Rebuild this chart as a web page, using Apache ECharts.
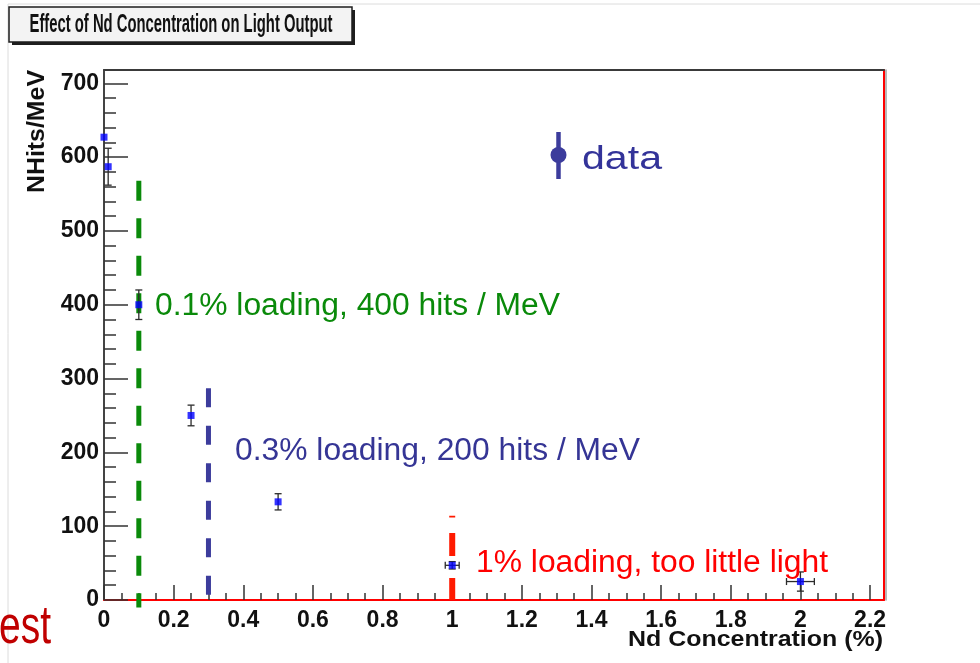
<!DOCTYPE html>
<html>
<head>
<meta charset="utf-8">
<title>Effect of Nd Concentration on Light Output</title>
<script src="https://cdn.jsdelivr.net/npm/echarts@6/dist/echarts.min.js"></script>
<style>
  html, body { margin: 0; padding: 0; background: #ffffff; }
  #chart { width: 980px; height: 663px; }
</style>
</head>
<body>
<div id="chart"></div>
<script>
// Measured light yield vs. Nd loading
const concentration      = [0, 0.012, 0.1, 0.25, 0.5, 1.0, 2.0];   // Nd concentration (%)
const nhitsPerMeV        = [627, 587, 400, 250, 133, 47, 25];     // NHits/MeV
const nhitsError         = [0, 25, 20, 14, 11, 5, 13];            // +/- NHits/MeV
const concentrationError = [0, 0, 0, 0, 0, 0.02, 0.04];           // +/- %

// Vertical guide lines for the loading options (drawn from start to end)
const guideX     = [0.1, 0.3, 1.0];
const guideStart = [568, 287, 0];
const guideEnd   = [-10, 5, 114];

// Axis tick labels
const xTickValues = [0, 0.2, 0.4, 0.6, 0.8, 1, 1.2, 1.4, 1.6, 1.8, 2, 2.2];
const yTickValues = [0, 100, 200, 300, 400, 500, 600, 700];

const X_MAX = 2.24;
const Y_MAX = 718;

const xMinorTicks = [];
for (let i = 0; i <= 44; i++) xMinorTicks.push(+(i * 0.05).toFixed(2));
const yMinorTicks = [];
for (let v = 0; v <= 700; v += 20) yMinorTicks.push(v);

const FONT = '"Liberation Sans", Arial, Helvetica, sans-serif';
const GREEN = '#0a8a0a', BLUE = '#353595', RED = '#ff0000';

// Text width fitting
const measureCtx = document.createElement('canvas').getContext('2d');
function fitScale(text, size, weight, target) {
  measureCtx.font = weight + ' ' + size + 'px ' + FONT;
  return target / measureCtx.measureText(text).width;
}
function textEl(text, x, y, size, weight, color, targetWidth, align, rotation) {
  return {
    type: 'text', x: x, y: y, rotation: rotation || 0,
    scaleX: targetWidth ? fitScale(text, size, weight, targetWidth) : 1,
    z: 20,
    style: {
      text: text, font: weight + ' ' + size + 'px ' + FONT, fill: color,
      align: align, verticalAlign: 'middle'
    }
  };
}

function renderErrorBars(params, api) {
  const x = api.value(0), y = api.value(1), ex = api.value(2), ey = api.value(3);
  const style = { stroke: '#2b2b2b', lineWidth: 1.3 };
  const cap = 3.5;
  const kids = [];
  if (ey > 0) {
    const t = api.coord([x, y + ey]), b = api.coord([x, y - ey]);
    kids.push({ type: 'line', shape: { x1: t[0], y1: t[1], x2: b[0], y2: b[1] }, style: style });
    kids.push({ type: 'line', shape: { x1: t[0] - cap, y1: t[1], x2: t[0] + cap, y2: t[1] }, style: style });
    kids.push({ type: 'line', shape: { x1: b[0] - cap, y1: b[1], x2: b[0] + cap, y2: b[1] }, style: style });
  }
  if (ex > 0) {
    const l = api.coord([x - ex, y]), r = api.coord([x + ex, y]);
    kids.push({ type: 'line', shape: { x1: l[0], y1: l[1], x2: r[0], y2: r[1] }, style: style });
    kids.push({ type: 'line', shape: { x1: l[0], y1: l[1] - cap, x2: l[0], y2: l[1] + cap }, style: style });
    kids.push({ type: 'line', shape: { x1: r[0], y1: r[1] - cap, x2: r[0], y2: r[1] + cap }, style: style });
  }
  return { type: 'group', children: kids };
}

const guideColors = [GREEN, '#3c3c9c', '#ff1a00'];
const guideWidths = [5, 5, 6];
const guideDash   = [[20, 17.5], [19, 18.5], [22, 22, 23, 15.5]];

const guideSeries = guideX.map(function (gx, i) {
  return {
    type: 'line', name: 'guide' + i, silent: true, clip: false,
    symbol: 'none', z: 3,
    data: [[gx, guideStart[i]], [gx, guideEnd[i]]],
    lineStyle: {
      color: guideColors[i], width: guideWidths[i],
      type: guideDash[i], cap: 'butt'
    }
  };
});

const labelStyle = { color: '#111', fontFamily: FONT, fontWeight: 'bold', fontSize: 23 };

// frame-only axis (no ticks, no labels)
function frameAxis(position, color, width, offset) {
  return {
    type: 'value', min: 0, position: position, offset: offset || 0,
    axisLine: { show: true, onZero: false, lineStyle: { color: color, width: width } },
    axisTick: { show: false }, axisLabel: { show: false }, splitLine: { show: false }
  };
}

const xTop = frameAxis('top', '#3a3a3a', 2); xTop.max = X_MAX;
const yRightShade = frameAxis('right', '#a0a0a0', 1.5, 2); yRightShade.max = Y_MAX;
const yRight = frameAxis('right', RED, 2); yRight.max = Y_MAX;

const chart = echarts.init(document.getElementById('chart'), null, { renderer: 'canvas' });
chart.setOption({
  animation: false,
  backgroundColor: '#ffffff',
  grid: { left: 104, right: 96, top: 70, bottom: 63, containLabel: false },
  xAxis: [
    {
      type: 'value', min: 0, max: X_MAX, position: 'bottom',
      axisLine: { show: true, onZero: false, lineStyle: { color: RED, width: 2 } },
      axisTick: { show: true, inside: true, length: 15, customValues: xTickValues,
                  lineStyle: { color: '#333', width: 1.5 } },
      axisLabel: Object.assign({ customValues: xTickValues, margin: 9 }, labelStyle),
      splitLine: { show: false }
    },
    {
      type: 'value', min: 0, max: X_MAX, position: 'bottom',
      axisLine: { show: false, onZero: false },
      axisTick: { show: true, inside: true, length: 7, customValues: xMinorTicks,
                  lineStyle: { color: '#333', width: 1.5 } },
      axisLabel: { show: false },
      splitLine: { show: false }
    },
    xTop
  ],
  yAxis: [
    {
      type: 'value', min: 0, max: Y_MAX, position: 'left',
      axisLine: { show: true, onZero: false, lineStyle: { color: '#444', width: 2 } },
      axisTick: { show: true, inside: true, length: 24, customValues: yTickValues,
                  lineStyle: { color: '#333', width: 1.5 } },
      axisLabel: Object.assign({ customValues: yTickValues, margin: 5 }, labelStyle),
      splitLine: { show: false }
    },
    {
      type: 'value', min: 0, max: Y_MAX, position: 'left',
      axisLine: { show: false, onZero: false },
      axisTick: { show: true, inside: true, length: 12, customValues: yMinorTicks,
                  lineStyle: { color: '#333', width: 1.5 } },
      axisLabel: { show: false }, splitLine: { show: false }
    },
    yRightShade,
    yRight
  ],
  series: guideSeries.concat([
    {
      type: 'custom', name: 'errors', renderItem: renderErrorBars, z: 4, silent: true,
      dimensions: ['x', 'y', 'ex', 'ey'],
      encode: { x: 'x', y: 'y' },
      data: concentration.map(function (c, i) {
        return [c, nhitsPerMeV[i], concentrationError[i], nhitsError[i]];
      })
    },
    {
      type: 'scatter', name: 'data', z: 5, symbol: 'rect', symbolSize: 7,
      itemStyle: { color: '#0000ff' },
      data: concentration.map(function (c, i) { return [c, nhitsPerMeV[i]]; })
    }
  ]),
  graphic: [
    // page edges
    { type: 'line', z: 1, shape: { x1: 8, y1: 4, x2: 980, y2: 4 }, style: { stroke: '#dcdcdc', lineWidth: 1 } },
    { type: 'line', z: 1, shape: { x1: 8, y1: 4, x2: 8, y2: 663 }, style: { stroke: '#dcdcdc', lineWidth: 1 } },
    // title box
    { type: 'rect', z: 10, shape: { x: 12, y: 10, width: 343, height: 35 }, style: { fill: '#1e1e1e' } },
    { type: 'rect', z: 11, shape: { x: 9, y: 7, width: 343, height: 35 }, style: { fill: '#f3f3f3', stroke: '#1e1e1e', lineWidth: 1.5 } },
    textEl('Effect of Nd Concentration on Light Output', 181, 25, 26, 'bold', '#111', 303, 'center'),
    // axis titles
    textEl('NHits/MeV', 37, 70, 24, 'bold', '#111', 123, 'right', Math.PI / 2),
    textEl('Nd Concentration (%)', 883, 640, 22, 'bold', '#111', 255, 'right'),
    // legend
    { type: 'line', z: 20, shape: { x1: 558.5, y1: 132, x2: 558.5, y2: 179 }, style: { stroke: '#3c3c9c', lineWidth: 4.5 } },
    { type: 'circle', z: 21, shape: { cx: 558.5, cy: 155, r: 8 }, style: { fill: '#3c3c9c' } },
    textEl('data', 582, 160, 34, 'normal', '#333399', 80, 'left'),
    // annotations
    textEl('0.1% loading, 400 hits / MeV', 155, 306, 31, 'normal', GREEN, 405, 'left'),
    textEl('0.3% loading, 200 hits / MeV', 235, 451.5, 31, 'normal', BLUE, 405, 'left'),
    textEl('1% loading, too little light', 476, 563, 31, 'normal', RED, 352, 'left'),
    textEl('est', -1, 628, 54, 'normal', '#c00000', 52, 'left')
  ]
});
</script>
</body>
</html>
